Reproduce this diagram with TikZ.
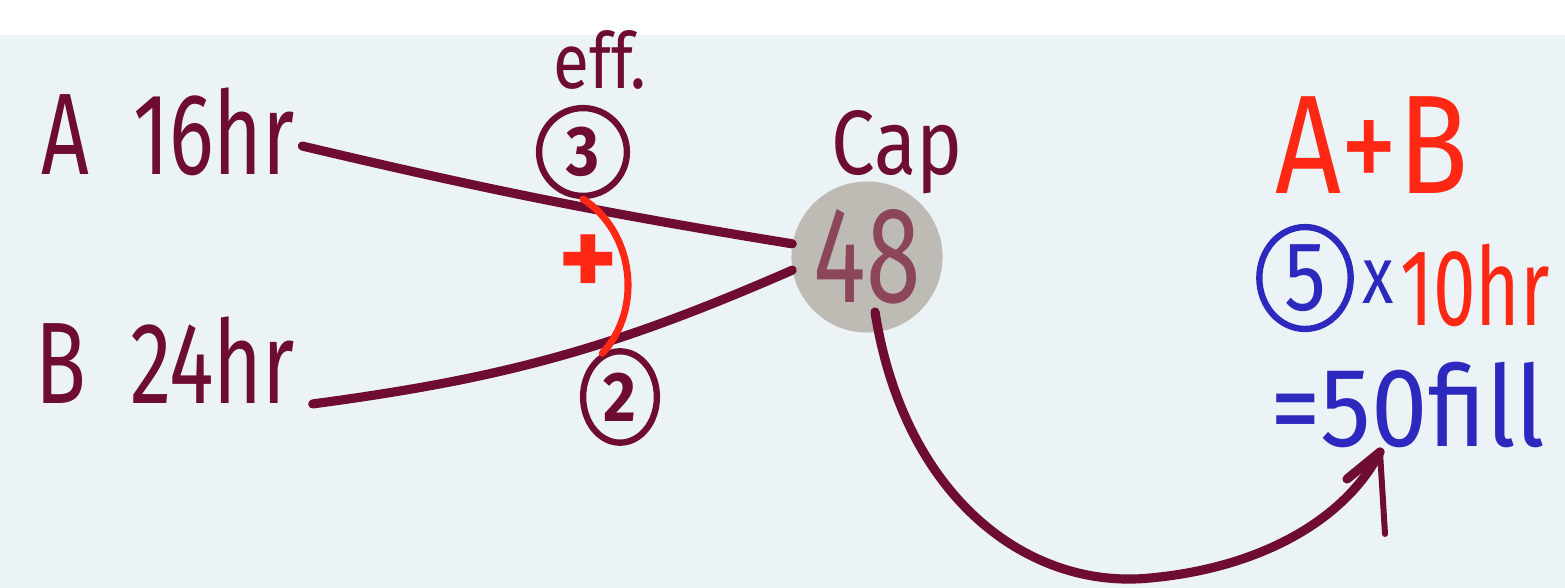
\documentclass[tikz,border=0pt]{standalone}
\usepackage{fontspec}
\usepackage{graphicx}
\setmainfont{Fira Sans}
\usetikzlibrary{shapes.geometric,arrows.meta}
\definecolor{maroon}{RGB}{110,12,50}
\definecolor{penred}{RGB}{255,40,20}
\definecolor{penblue}{RGB}{45,40,190}
\definecolor{bgblue}{RGB}{235,243,246}
\definecolor{capgray}{RGB}{190,187,181}
\definecolor{numcol}{RGB}{140,70,90}
\newcommand\hw[3]{\scalebox{#2}[1]{\fontsize{#1}{#1}\selectfont #3}}
\begin{document}
\begin{tikzpicture}[x=0.02cm,y=-0.02cm,
  txt/.style={inner sep=0pt, text=maroon},
  conn/.style={draw=maroon, line width=5.2pt, line cap=round},
  ring/.style={draw=maroon, line width=3.6pt, inner sep=0pt, text=maroon},
  redpen/.style={draw=penred, line width=4pt, line cap=round},
]
\useasboundingbox (0,0) rectangle (1565,588);
\fill[white] (0,0) rectangle (1565,588);
\fill[bgblue] (0,35) rectangle (1565,588);

% left labels
\node[txt] (a) at (168,132) {\hw{66}{0.72}{A\ \ 16hr}};
\node[txt] (b) at (165,360) {\hw{66}{0.72}{B\ \ 24hr}};

% efficiencies
\node[txt] (eff) at (600,60) {\hw{44}{0.85}{eff.}};
\node[ring, circle, minimum size=50pt] (three) at (583,152) {\hw{40}{0.9}{\bfseries 3}};
\node[ring, ellipse, minimum width=42pt, minimum height=52pt] (two) at (620,397) {\hw{40}{0.9}{\bfseries 2}};
\node[inner sep=0pt, text=penred] (plus) at (588,266) {\hw{64}{1}{\bfseries +}};

% capacity
\node[txt] (cap) at (897,152) {\hw{52}{0.85}{Cap}};
\node[circle, fill=capgray, minimum size=86pt, inner sep=0pt, text=numcol] (c48) at (867,257) {\hw{78}{0.72}{48}};

% right side
\node[inner sep=0pt, text=penred] (ab) at (1372,145) {\hw{80}{0.82}{A+B}};
\node[draw=penblue, line width=3.6pt, ellipse, minimum width=52pt, minimum height=58pt, inner sep=0pt, text=penblue] (five) at (1305,278) {\hw{56}{0.85}{5}};
\node[inner sep=0pt, text=penblue] (times) at (1378,282) {\hw{46}{0.8}{x}};
\node[inner sep=0pt, text=penred] (hr10) at (1475,285) {\hw{62}{0.7}{10hr}};
\node[inner sep=0pt, text=penblue] (fill) at (1408,405) {\hw{64}{0.9}{=50fill}};

% connectors
\draw[conn] ([xshift=4pt,yshift=-8pt]a.east) to[bend right=2] (c48.170);
\draw[conn] ([xshift=10pt,yshift=-25pt]b.east) to[bend right=8] (c48.190);
\draw[redpen] (three.south) to[bend left=50] (two.112);

\coordinate (astart) at (875,312);
\coordinate (tip) at (1380,452);
\draw[conn] (astart) .. controls (905,500) and (1030,590) .. (1150,578)
  .. controls (1260,568) and (1345,520) .. (tip);
\draw[conn] (tip) -- ++(-33,27);
\draw[conn, line width=3.4pt] (tip) -- ++(5,82);
\end{tikzpicture}
\end{document}
